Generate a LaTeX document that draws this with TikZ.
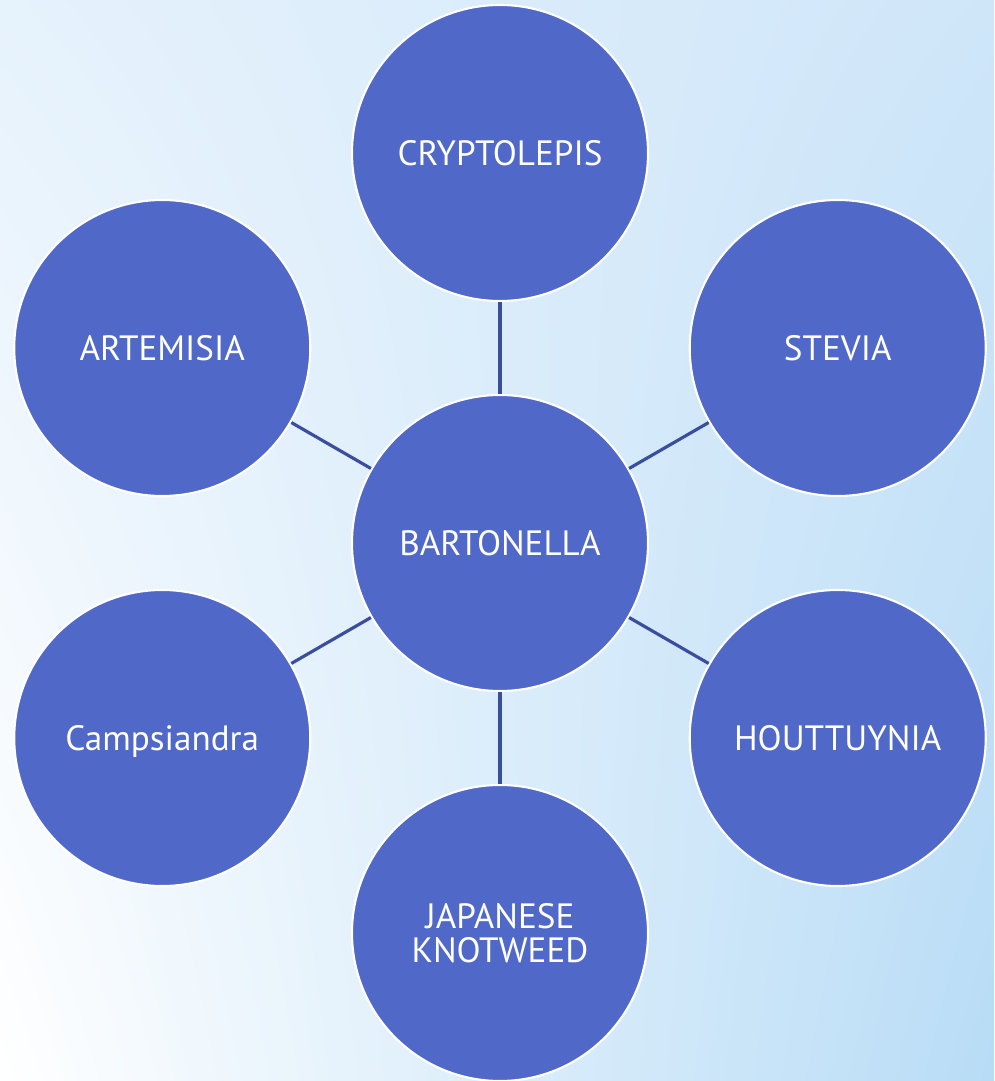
\documentclass[tikz,border=0pt]{standalone}
\usepackage{fontspec}
\setmainfont{PT Sans}
\usepackage{xcolor}
\usetikzlibrary{positioning, calc, shadings}
\definecolor{petalblue}{HTML}{5068C8}
\definecolor{linkblue}{HTML}{3A4E9E}
\definecolor{skytop}{HTML}{E6F2FC}
\definecolor{skytopr}{HTML}{CFE6F9}
\definecolor{skybotr}{HTML}{B8DCF6}

\begin{document}
\begin{tikzpicture}[
  every node/.style={align=center},
  petal/.style={circle, minimum size=5.92cm, inner sep=0pt, fill=petalblue,
                draw=white, line width=1.2pt, text=white,
                font=\fontsize{20}{19}\selectfont},
  link/.style={draw=linkblue, line width=1.8pt}
]
  % background
  \shade[upper left=skytop, upper right=skytopr, lower left=white, lower right=skybotr]
    (-10,-10.76) rectangle (9.88,10.86);
  \useasboundingbox (-10,-10.76) rectangle (9.88,10.86);

  \node[petal] (bart) at (0,0) {BARTONELLA};
  \node[petal] (crypto) at (90:7.8) {CRYPTOLEPIS};
  \node[petal] (stevia) at (30:7.8) {STEVIA};
  \node[petal] (artem) at (150:7.8) {ARTEMISIA};
  \node[petal, text depth=0pt] (camps) at (210:7.8) {Campsiandra};
  \node[petal] (houtt) at (330:7.8) {HOUTTUYNIA};
  \node[petal] (knot) at (270:7.8) {JAPANESE\\KNOTWEED};

  \foreach \n in {crypto, stevia, artem, camps, houtt, knot}
    \draw[link] (bart) -- (\n);
\end{tikzpicture}
\end{document}
